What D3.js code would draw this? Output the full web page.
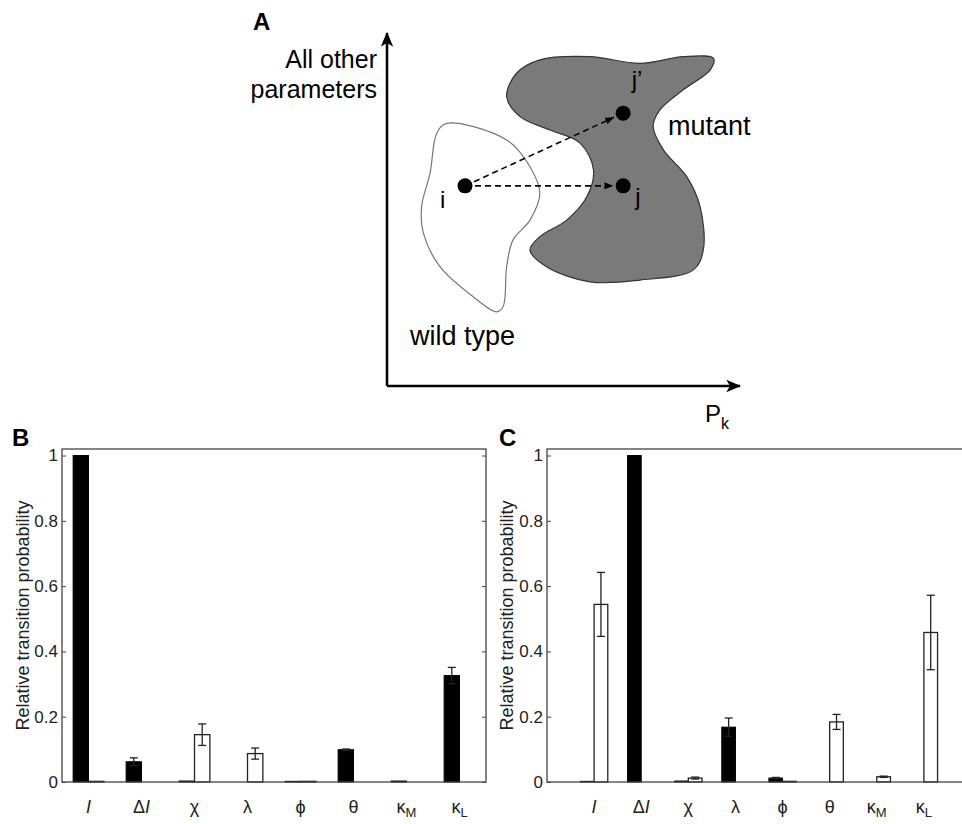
<!DOCTYPE html>
<html>
<head>
<meta charset="UTF-8">
<title>Relative transition probability</title>
<style>
html, body {
    margin: 0;
    padding: 0;
    background-color: #fff;
}
text {
    font-family: 'Liberation Sans', Arial, Helvetica, sans-serif;
}
.frame {
    fill: none;
    stroke: #444;
    stroke-width: 1.3;
}
</style>
</head>
<body>
<svg id="fig" width="962" height="824"></svg>
<script src="https://cdn.jsdelivr.net/npm/d3@7/dist/d3.min.js"></script>
<script>
// ---- data ----
const categories = ['I', 'ΔI', 'χ', 'λ', 'ϕ', 'θ', 'κM', 'κL'];
const yTicks = [0, 0.2, 0.4, 0.6, 0.8, 1];

// panel B
const bBlack    = [1.0, 0.062, 0.003, 0.0, 0.002, 0.099, 0.003, 0.326];
const bBlackErr = [0, 0.012, 0, 0, 0, 0.002, 0, 0.025];
const bWhite    = [0.002, 0.0, 0.145, 0.087, 0.002, 0.0, 0.0, 0.0];
const bWhiteErr = [0, 0, 0.033, 0.017, 0, 0, 0, 0];

// panel C
const cBlack    = [0.002, 1.0, 0.003, 0.168, 0.012, 0.0, 0.0, 0.0];
const cBlackErr = [0, 0, 0, 0.028, 0.002, 0, 0, 0];
const cWhite    = [0.544, 0.0, 0.012, 0.0, 0.002, 0.184, 0.016, 0.458];
const cWhiteErr = [0.098, 0, 0.003, 0, 0, 0.023, 0.002, 0.114];

// panel A schematic, coordinates in axis units (0..100)
const wildType = [[16.9, 74.4], [33.9, 69.7], [40.5, 62.1], [43.3, 54.6], [40.5, 47.0],
    [35.7, 41.4], [33.9, 33.8], [32.9, 22.5], [31.1, 21.0], [24.4, 25.3], [15.0, 33.8],
    [10.3, 43.3], [9.8, 50.8], [12.2, 60.3], [14.1, 71.6]];
const mutant = [[33.9, 82.0], [36.7, 88.6], [43.3, 92.4], [57.5, 93.3], [71.7, 91.4],
    [83.9, 93.3], [92.5, 92.8], [91.5, 89.5], [83.9, 83.9], [77.3, 78.2], [75.4, 73.5],
    [78.3, 66.9], [84.9, 59.3], [88.7, 50.8], [89.6, 38.5], [86.8, 32.9], [71.7, 30.0],
    [57.5, 29.5], [45.2, 33.8], [40.5, 38.5], [43.3, 42.3], [50.9, 47.0], [56.6, 53.6],
    [58.5, 61.2], [54.7, 68.8], [46.2, 72.5], [37.7, 76.3]];
const pointI = [22.1, 56.7];
const pointJ = [66.9, 56.7];
const pointJp = [66.9, 77.3];

let svg = d3.select('#fig');

let defs = svg.append('defs');
defs.append('marker')
    .attr('id', 'axisHead')
    .attr('viewBox', '0 0 12 10')
    .attr('refX', 11).attr('refY', 5)
    .attr('markerWidth', 6).attr('markerHeight', 5)
    .attr('orient', 'auto')
    .append('path')
    .attr('d', 'M0,0 L12,5 L0,10 L3,5 z')
    .attr('fill', '#000');
defs.append('marker')
    .attr('id', 'dashHead')
    .attr('viewBox', '0 0 10 8')
    .attr('refX', 10).attr('refY', 4)
    .attr('markerUnits', 'userSpaceOnUse')
    .attr('markerWidth', 9).attr('markerHeight', 7)
    .attr('orient', 'auto')
    .append('path')
    .attr('d', 'M0,0 L10,4 L0,8 z')
    .attr('fill', '#000');

// ---- panel A ----
let xA = d3.scaleLinear().domain([0, 100]).range([387, 740]);
let yA = d3.scaleLinear().domain([0, 100]).range([386, 33]);
let blob = d3.line()
    .x(d => xA(d[0]))
    .y(d => yA(d[1]))
    .curve(d3.curveCatmullRomClosed.alpha(0.5));

let gA = svg.append('g');
gA.append('path')
    .attr('d', blob(mutant))
    .attr('fill', '#7a7a7a')
    .attr('stroke', '#333')
    .attr('stroke-width', 1.2);
gA.append('path')
    .attr('d', blob(wildType))
    .attr('fill', '#fff')
    .attr('stroke', '#777')
    .attr('stroke-width', 1.2);

gA.append('line')
    .attr('x1', xA(0)).attr('y1', yA(0))
    .attr('x2', xA(0)).attr('y2', yA(100))
    .attr('stroke', '#000').attr('stroke-width', 2.5)
    .attr('marker-end', 'url(#axisHead)');
gA.append('line')
    .attr('x1', xA(0)).attr('y1', yA(0))
    .attr('x2', xA(100)).attr('y2', yA(0))
    .attr('stroke', '#000').attr('stroke-width', 2.5)
    .attr('marker-end', 'url(#axisHead)');

// dashed transitions, stopping short of the target dots
[pointJ, pointJp].forEach(p => {
    let x1 = xA(pointI[0]), y1 = yA(pointI[1]);
    let x2 = xA(p[0]), y2 = yA(p[1]);
    let len = Math.hypot(x2 - x1, y2 - y1);
    let k = (len - 10) / len;
    gA.append('line')
        .attr('x1', x1).attr('y1', y1)
        .attr('x2', x1 + (x2 - x1) * k).attr('y2', y1 + (y2 - y1) * k)
        .attr('stroke', '#000').attr('stroke-width', 1.6)
        .attr('stroke-dasharray', '6,4')
        .attr('marker-end', 'url(#dashHead)');
});

gA.selectAll('circle.pt')
    .data([pointI, pointJ, pointJp])
    .enter().append('circle')
    .attr('class', 'pt')
    .attr('cx', d => xA(d[0]))
    .attr('cy', d => yA(d[1]))
    .attr('r', 7.5)
    .attr('fill', '#000');

gA.append('text').attr('x', 253).attr('y', 30)
    .attr('font-size', 24).attr('font-weight', 'bold').text('A');
gA.append('text').attr('x', 377).attr('y', 68)
    .attr('text-anchor', 'end').attr('font-size', 25).text('All other');
gA.append('text').attr('x', 377).attr('y', 98)
    .attr('text-anchor', 'end').attr('font-size', 25).text('parameters');
gA.append('text').attr('x', xA(15)).attr('y', yA(50.4))
    .attr('font-size', 24).text('i');
gA.append('text').attr('x', xA(70.3)).attr('y', yA(51.3))
    .attr('font-size', 24).text('j');
gA.append('text').attr('x', xA(69.3)).attr('y', yA(84.4))
    .attr('font-size', 24).text('j’');
gA.append('text').attr('x', xA(79.6)).attr('y', 135)
    .attr('font-size', 27).text('mutant');
gA.append('text').attr('x', xA(6.5)).attr('y', 345)
    .attr('font-size', 27).text('wild type');
let pk = gA.append('text').attr('x', 705).attr('y', 422).attr('font-size', 24);
pk.append('tspan').text('P');
pk.append('tspan').attr('font-size', 16).attr('dy', 7).text('k');

// ---- bar panels ----
function catLabel(sel, s) {
    if (s === 'I') {
        sel.append('tspan').attr('font-style', 'italic').text('I');
    } else if (s === 'ΔI') {
        sel.append('tspan').text('Δ');
        sel.append('tspan').attr('font-style', 'italic').text('I');
    } else if (s[0] === 'κ' && s.length === 2) {
        sel.append('tspan').text('κ');
        sel.append('tspan').attr('font-size', 13).attr('dy', 4).text(s[1]);
    } else {
        sel.append('tspan').text(s);
    }
}

function barPanel(left, xDomain, black, blackErr, white, whiteErr, letter, letterX, labelX) {
    let top = 449, bottom = 782, width = 424;
    let x = d3.scaleLinear().domain(xDomain).range([left, left + width]);
    let y = d3.scaleLinear().domain([0, 1.02]).range([bottom, top]);
    let g = svg.append('g');
    let bw = x(xDomain[0] + 0.29) - x(xDomain[0]);

    g.append('g')
        .attr('transform', `translate(${left},0)`)
        .call(d3.axisLeft(y).tickValues(yTicks).tickSize(-4).tickPadding(4)
            .tickFormat(d => String(d)))
        .call(a => a.select('.domain').remove())
        .call(a => a.selectAll('line').attr('stroke', '#444'))
        .call(a => a.selectAll('text').attr('font-size', 17).attr('fill', '#222')
            .style('font-family', "'Liberation Sans', Arial, sans-serif"));
    g.append('g')
        .attr('transform', `translate(${left + width},0)`)
        .call(d3.axisRight(y).tickValues(yTicks).tickSize(-4).tickFormat(''))
        .call(a => a.select('.domain').remove())
        .call(a => a.selectAll('line').attr('stroke', '#444'));

    let idx = d3.range(categories.length);
    g.selectAll('rect.blk').data(idx).enter().append('rect')
        .attr('class', 'blk')
        .attr('x', i => x(i + 1) - bw)
        .attr('y', i => y(black[i]))
        .attr('width', bw)
        .attr('height', i => y(0) - y(black[i]))
        .attr('fill', '#000')
        .attr('stroke', '#000')
        .attr('stroke-width', 1);
    g.selectAll('rect.wht').data(idx).enter().append('rect')
        .attr('class', 'wht')
        .attr('x', i => x(i + 1))
        .attr('y', i => y(white[i]))
        .attr('width', bw)
        .attr('height', i => y(0) - y(white[i]))
        .attr('fill', '#fff')
        .attr('stroke', '#222')
        .attr('stroke-width', 1.3);

    let errs = [];
    idx.forEach(i => {
        if (blackErr[i] > 0) errs.push({ c: x(i + 1) - bw / 2, v: black[i], e: blackErr[i] });
        if (whiteErr[i] > 0) errs.push({ c: x(i + 1) + bw / 2, v: white[i], e: whiteErr[i] });
    });
    let eg = g.selectAll('g.err').data(errs).enter().append('g')
        .attr('class', 'err')
        .attr('stroke', '#222').attr('stroke-width', 1.3);
    eg.append('line')
        .attr('x1', d => d.c).attr('x2', d => d.c)
        .attr('y1', d => y(d.v - d.e)).attr('y2', d => y(d.v + d.e));
    eg.append('line')
        .attr('x1', d => d.c - 4).attr('x2', d => d.c + 4)
        .attr('y1', d => y(d.v + d.e)).attr('y2', d => y(d.v + d.e));
    eg.append('line')
        .attr('x1', d => d.c - 4).attr('x2', d => d.c + 4)
        .attr('y1', d => y(d.v - d.e)).attr('y2', d => y(d.v - d.e));

    g.append('rect')
        .attr('class', 'frame')
        .attr('x', left).attr('y', top)
        .attr('width', width).attr('height', bottom - top);

    g.selectAll('text.cat').data(categories).enter().append('text')
        .attr('class', 'cat')
        .attr('x', (d, i) => x(i + 1))
        .attr('y', 813)
        .attr('text-anchor', 'middle')
        .attr('font-size', 18)
        .attr('fill', '#222')
        .each(function (d) { catLabel(d3.select(this), d); });

    g.append('text')
        .attr('transform', `translate(${labelX},${(top + bottom) / 2}) rotate(-90)`)
        .attr('text-anchor', 'middle')
        .attr('font-size', 18)
        .attr('fill', '#222')
        .text('Relative transition probability');

    g.append('text').attr('x', letterX).attr('y', 446)
        .attr('font-size', 24).attr('font-weight', 'bold').text(letter);
}

barPanel(62, [0.5, 8.5], bBlack, bBlackErr, bWhite, bWhiteErr, 'B', 12, 29);
barPanel(547, [0, 9], cBlack, cBlackErr, cWhite, cWhiteErr, 'C', 499, 513);
</script>
</body>
</html>
